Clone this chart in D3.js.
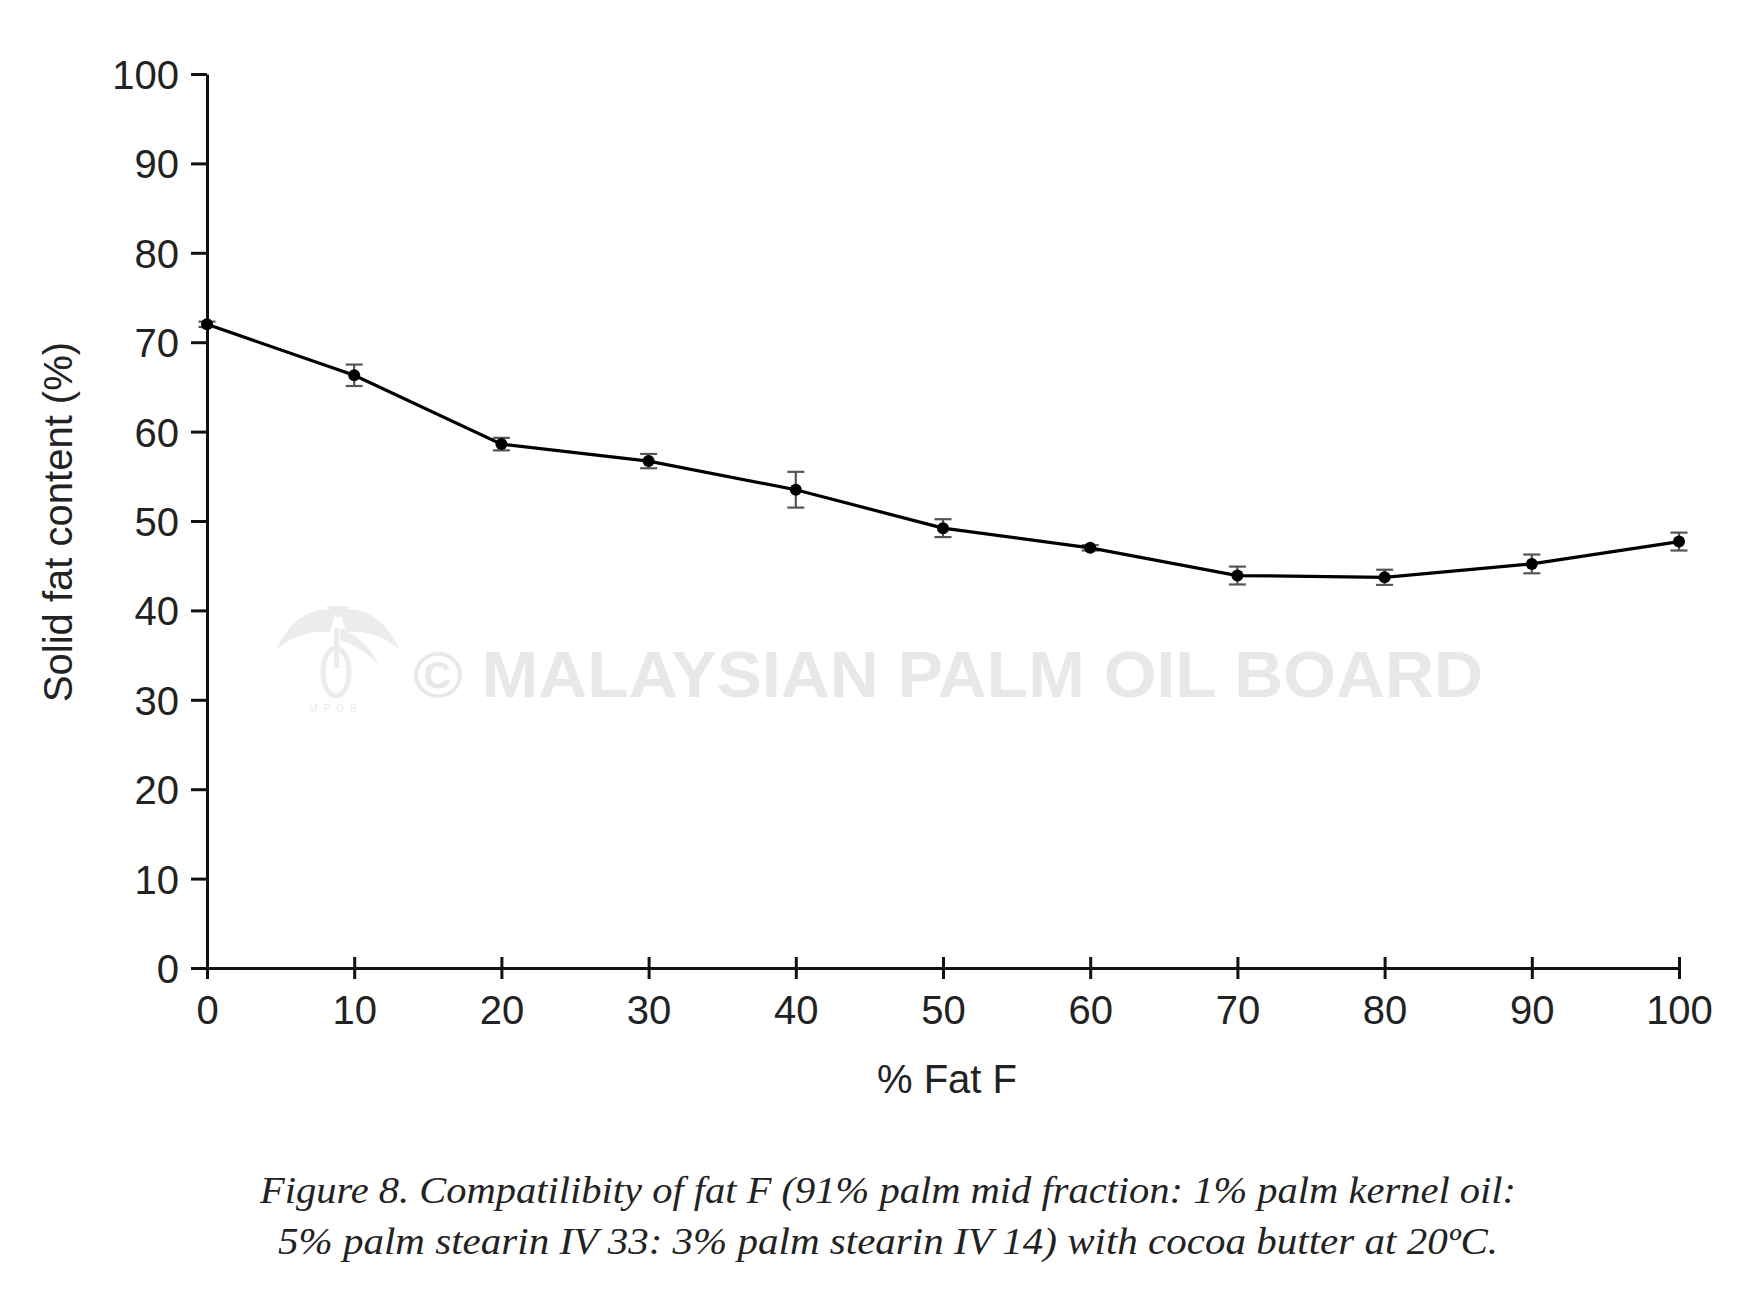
<!DOCTYPE html>
<html>
<head>
<meta charset="utf-8">
<script src="https://cdn.jsdelivr.net/npm/d3@7"></script>
<style>
  body { margin: 0; background: #fff; }
  svg { display: block; }
</style>
</head>
<body>
<svg id="chart"></svg>
<script>
// data
const pctFat = [0, 10, 20, 30, 40, 50, 60, 70, 80, 90, 100];
const sfc    = [72.0, 66.3, 58.6, 56.7, 53.5, 49.2, 47.0, 43.9, 43.7, 45.2, 47.7];
const sfcErr = [0.3, 1.2, 0.7, 0.8, 2.0, 1.0, 0.3, 1.0, 0.85, 1.05, 1.0];
const xTicks = [0, 10, 20, 30, 40, 50, 60, 70, 80, 90, 100];
const yTicks = [0, 10, 20, 30, 40, 50, 60, 70, 80, 90, 100];
const captionLines = [
    "Figure 8. Compatilibity of fat F (91% palm mid fraction: 1% palm kernel oil:",
    "5% palm stearin IV 33: 3% palm stearin IV 14) with cocoa butter at 20ºC."
];
const captionWidths = [1256, 1220];

const W = 1762, H = 1306;
const margin = {top: 74, right: 83, bottom: 338, left: 207};
const width = W - margin.left - margin.right;
const height = H - margin.top - margin.bottom;
const sans = 'Liberation Sans, Arial, sans-serif';

const svg = d3.select('#chart')
    .attr('width', W)
    .attr('height', H);

const chart = svg.append('g')
    .attr('transform', `translate(${margin.left},${margin.top})`);

const xScale = d3.scaleLinear().domain([0, 100]).range([0, width]);
const yScale = d3.scaleLinear().domain([0, 100]).range([height, 0]);

// watermark (rough palm logo + text), sits behind everything
const wm = svg.append('g').attr('fill', '#ececec');
wm.append('path')
    .attr('d', 'M336,610 C315,606 290,618 276,650 C292,636 310,630 330,632 Z');
wm.append('path')
    .attr('d', 'M340,610 C361,606 386,618 400,650 C384,636 366,630 346,632 Z');
wm.append('path')
    .attr('d', 'M326,606 L338,618 L350,606 Z');
wm.append('path')
    .attr('d', 'M340,628 C356,634 372,648 378,664 C366,652 352,644 340,640 Z');
wm.append('rect').attr('x', 334).attr('y', 628).attr('width', 5).attr('height', 40);
wm.append('ellipse').attr('cx', 336).attr('cy', 672).attr('rx', 13).attr('ry', 24)
    .attr('fill', 'none').attr('stroke', '#ececec').attr('stroke-width', 5);
wm.append('text')
    .attr('x', 336).attr('y', 712)
    .attr('text-anchor', 'middle')
    .style('font-family', sans)
    .style('font-size', '10px')
    .style('letter-spacing', '6px')
    .text('MPOB');
svg.append('text')
    .attr('x', 413)
    .attr('y', 697)
    .attr('textLength', 1070)
    .attr('lengthAdjust', 'spacingAndGlyphs')
    .style('font-family', sans)
    .style('font-weight', 'bold')
    .style('font-size', '64px')
    .style('fill', '#e8e8e8')
    .text('© MALAYSIAN PALM OIL BOARD');

// axes
const yAxis = d3.axisLeft(yScale)
    .tickValues(yTicks)
    .tickSize(16)
    .tickSizeOuter(0)
    .tickPadding(12);

const xAxis = d3.axisBottom(xScale)
    .tickValues(xTicks)
    .tickSize(11)
    .tickSizeOuter(0)
    .tickPadding(17);

const yAxisG = chart.append('g').attr('class', 'axis y-axis').call(yAxis);
const xAxisG = chart.append('g').attr('class', 'axis x-axis')
    .attr('transform', `translate(0,${height})`)
    .call(xAxis);

// x ticks cross the axis line
xAxisG.selectAll('.tick line').attr('y1', -11).attr('y2', 11);

chart.selectAll('.axis path, .axis line')
    .attr('stroke', '#111')
    .attr('stroke-width', 3);
chart.selectAll('.axis text')
    .style('font-family', sans)
    .style('font-size', '40px')
    .attr('fill', '#222');
yAxisG.selectAll('text').attr('dy', '0.36em');

// axis titles
svg.append('text')
    .attr('transform', `translate(58,${margin.top + height / 2 + 1}) rotate(-90)`)
    .attr('text-anchor', 'middle')
    .attr('dy', '0.36em')
    .style('font-family', sans)
    .style('font-size', '40px')
    .attr('fill', '#222')
    .text('Solid fat content (%)');

svg.append('text')
    .attr('x', 947)
    .attr('y', 1093)
    .attr('text-anchor', 'middle')
    .style('font-family', sans)
    .style('font-size', '40px')
    .attr('fill', '#222')
    .text('% Fat F');

// error bars
const cap = 8.5;
const errG = chart.append('g').attr('stroke', '#555').attr('stroke-width', 2.2);
pctFat.forEach((x, i) => {
    const cx = xScale(x);
    const y0 = yScale(sfc[i] - sfcErr[i]);
    const y1 = yScale(sfc[i] + sfcErr[i]);
    errG.append('line').attr('x1', cx).attr('x2', cx).attr('y1', y0).attr('y2', y1);
    errG.append('line').attr('x1', cx - cap).attr('x2', cx + cap).attr('y1', y0).attr('y2', y0);
    errG.append('line').attr('x1', cx - cap).attr('x2', cx + cap).attr('y1', y1).attr('y2', y1);
});

// line + markers
const line = d3.line()
    .x((d, i) => xScale(pctFat[i]))
    .y(d => yScale(d));

chart.append('path')
    .datum(sfc)
    .attr('fill', 'none')
    .attr('stroke', '#000')
    .attr('stroke-width', 3.2)
    .attr('d', line);

chart.selectAll('.dot')
    .data(sfc)
    .enter()
    .append('circle')
    .attr('class', 'dot')
    .attr('cx', (d, i) => xScale(pctFat[i]))
    .attr('cy', d => yScale(d))
    .attr('r', 6)
    .attr('fill', '#000');

// caption
svg.selectAll('.caption')
    .data(captionLines)
    .enter()
    .append('text')
    .attr('class', 'caption')
    .attr('x', 888)
    .attr('y', (d, i) => 1203 + i * 51)
    .attr('text-anchor', 'middle')
    .attr('textLength', (d, i) => captionWidths[i])
    .attr('lengthAdjust', 'spacingAndGlyphs')
    .style('font-family', 'Liberation Serif, Times New Roman, serif')
    .style('font-style', 'italic')
    .style('font-size', '37px')
    .attr('fill', '#222')
    .text(d => d);
</script>
</body>
</html>
